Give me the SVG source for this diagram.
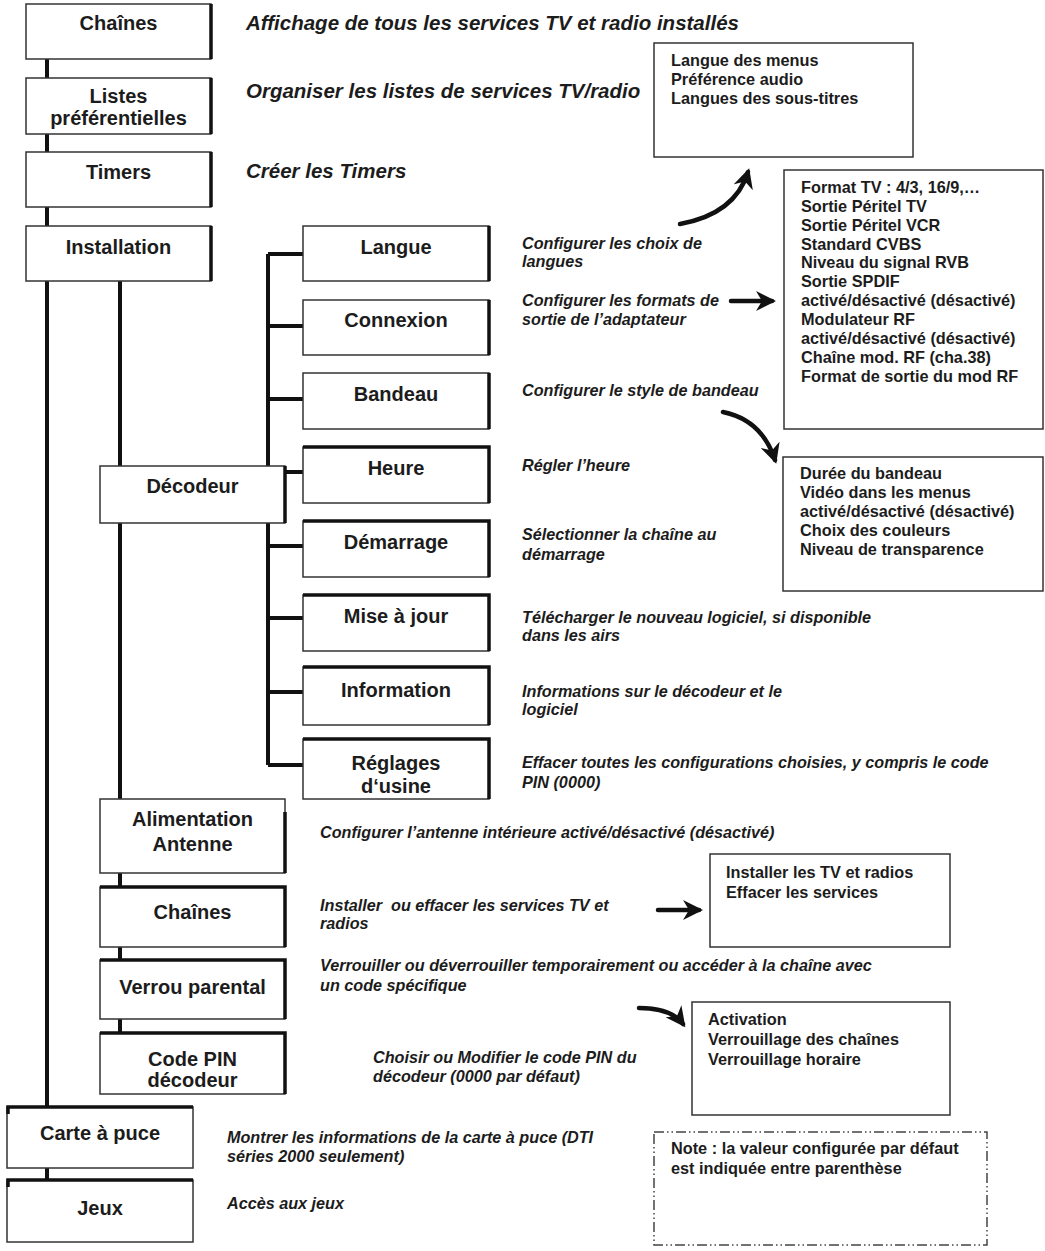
<svg xmlns="http://www.w3.org/2000/svg" width="1045" height="1251" viewBox="0 0 1045 1251">
<style>
text{font-family:"Liberation Sans",Arial,Helvetica,sans-serif;fill:#1c1c1c;font-weight:bold}
.n{font-size:20px;text-anchor:middle}
.d{font-style:italic;font-size:16.2px}
.dl{font-style:italic;font-size:20.5px}
.t{font-size:16.3px}
.box{fill:#fff;stroke:#333;stroke-width:1.5}
.sh{fill:none;stroke:#111;stroke-width:3.5}
.ln{fill:none;stroke:#111;stroke-width:4}
.ar{fill:none;stroke:#111;stroke-width:4.5;stroke-linecap:round}
.note{fill:#fff;stroke:#444;stroke-width:1.5;stroke-dasharray:10 3 1.5 3 1.5 3}
</style>
<defs>
<marker id="ah" viewBox="0 0 10 10" refX="8" refY="5" markerWidth="20" markerHeight="20" markerUnits="userSpaceOnUse" orient="auto"><path d="M0,0 L10,5 L0,10 L3,5 z" fill="#111"/></marker>
</defs>
<g id="connectors">
<path class="ln" d="M47,59 V1180"/>
<path class="ln" d="M120,281 V1033"/>
<path class="ln" d="M268,254 V765 M268,254 H303 M268,326 H303 M268,399 H303 M268,472 H303 M268,546 H303 M268,618 H303 M268,692 H303 M268,765 H303"/>
<path class="ar" d="M680,224 Q735,214 748,172" marker-end="url(#ah)"/>
<path class="ar" d="M731,301 H772" marker-end="url(#ah)"/>
<path class="ar" d="M723,412 Q762,420 775,460" marker-end="url(#ah)"/>
<path class="ar" d="M658,910 H699" marker-end="url(#ah)"/>
<path class="ar" d="M639,1008 Q671,1008 683,1024" marker-end="url(#ah)"/>
</g>
<g id="n-chaines"><rect class="box" x="26" y="4" width="185" height="55"/><path class="sh" d="M211,4 V59"/><text class="n" x="118.5" y="30">Chaînes</text></g>
<g id="n-listes"><rect class="box" x="26" y="78" width="185" height="56"/><path class="sh" d="M211,78 V134"/><text class="n" x="118.5" y="103">Listes</text><text class="n" x="118.5" y="125">préférentielles</text></g>
<g id="n-timers"><rect class="box" x="26" y="152" width="185" height="55"/><path class="sh" d="M211,152 V207"/><text class="n" x="118.5" y="179">Timers</text></g>
<g id="n-installation"><rect class="box" x="26" y="226" width="185" height="55"/><path class="sh" d="M211,226 V281"/><text class="n" x="118.5" y="254">Installation</text></g>
<g id="n-decodeur"><rect class="box" x="100" y="466" width="185" height="57"/><path class="sh" d="M285,466 V523"/><text class="n" x="192.5" y="493">Décodeur</text></g>
<g id="n-langue"><rect class="box" x="303" y="226" width="186" height="55"/><path class="sh" d="M489,226 V281"/><text class="n" x="396" y="254">Langue</text></g>
<g id="n-connexion"><rect class="box" x="303" y="300" width="186" height="55"/><path class="sh" d="M489,300 V355"/><text class="n" x="396" y="327">Connexion</text></g>
<g id="n-bandeau"><rect class="box" x="303" y="373" width="186" height="56"/><path class="sh" d="M489,373 V429"/><text class="n" x="396" y="401">Bandeau</text></g>
<g id="n-heure"><rect class="box" x="303" y="447" width="186" height="56"/><path class="sh" d="M303,447 H489 V503"/><text class="n" x="396" y="475">Heure</text></g>
<g id="n-demarrage"><rect class="box" x="303" y="521" width="186" height="56"/><path class="sh" d="M303,521 H489 V577"/><text class="n" x="396" y="549">Démarrage</text></g>
<g id="n-miseajour"><rect class="box" x="303" y="595" width="186" height="56"/><path class="sh" d="M303,595 H489 V651"/><text class="n" x="396" y="623">Mise à jour</text></g>
<g id="n-information"><rect class="box" x="303" y="667" width="186" height="58"/><path class="sh" d="M303,667 H489 V725"/><text class="n" x="396" y="697">Information</text></g>
<g id="n-reglages"><rect class="box" x="303" y="739" width="186" height="60"/><path class="sh" d="M303,739 H489 V799"/><text class="n" x="396" y="770">Réglages</text><text class="n" x="396" y="793">d‘usine</text></g>
<g id="n-alimentation"><rect class="box" x="100" y="799" width="185" height="74"/><path class="sh" d="M285,812 V873"/><text class="n" x="192.5" y="826">Alimentation</text><text class="n" x="192.5" y="851">Antenne</text></g>
<g id="n-chaines2"><rect class="box" x="100" y="887" width="185" height="60"/><path class="sh" d="M100,887 H285 V947"/><text class="n" x="192.5" y="919">Chaînes</text></g>
<g id="n-verrou"><rect class="box" x="100" y="960" width="185" height="59"/><path class="sh" d="M100,960 H285 V1019"/><text class="n" x="192.5" y="994">Verrou parental</text></g>
<g id="n-codepin"><rect class="box" x="100" y="1033" width="185" height="61"/><path class="sh" d="M100,1033 H285 V1094"/><text class="n" x="192.5" y="1066">Code PIN</text><text class="n" x="192.5" y="1087">décodeur</text></g>
<g id="n-carte"><rect class="box" x="7" y="1107" width="186" height="61"/><path class="sh" d="M8,1114 V1107 H193"/><text class="n" x="100" y="1140">Carte à puce</text></g>
<g id="n-jeux"><rect class="box" x="7" y="1180" width="186" height="62"/><path class="sh" d="M8,1187 V1180 H193"/><text class="n" x="100" y="1215">Jeux</text></g>
<g id="descriptions">
<text class="dl" x="246" y="30">Affichage de tous les services TV et radio installés</text>
<text class="dl" x="246" y="98">Organiser les listes de services TV/radio</text>
<text class="dl" x="246" y="178">Créer les Timers</text>
<text class="d" x="522" y="249">Configurer les choix de</text>
<text class="d" x="522" y="267">langues</text>
<text class="d" x="522" y="306">Configurer les formats de</text>
<text class="d" x="522" y="325">sortie de l’adaptateur</text>
<text class="d" x="522" y="396">Configurer le style de bandeau</text>
<text class="d" x="522" y="471">Régler l’heure</text>
<text class="d" x="522" y="540">Sélectionner la chaîne au</text>
<text class="d" x="522" y="560">démarrage</text>
<text class="d" x="522" y="623">Télécharger le nouveau logiciel, si disponible</text>
<text class="d" x="522" y="641">dans les airs</text>
<text class="d" x="522" y="697">Informations sur le décodeur et le</text>
<text class="d" x="522" y="715">logiciel</text>
<text class="d" x="522" y="768">Effacer toutes les configurations choisies, y compris le code</text>
<text class="d" x="522" y="788">PIN (0000)</text>
<text class="d" x="320" y="838">Configurer l’antenne intérieure activé/désactivé (désactivé)</text>
<text class="d" x="320" y="911" style="white-space:pre">Installer  ou effacer les services TV et</text>
<text class="d" x="320" y="929">radios</text>
<text class="d" x="320" y="971">Verrouiller ou déverrouiller temporairement ou accéder à la chaîne avec</text>
<text class="d" x="320" y="991">un code spécifique</text>
<text class="d" x="373" y="1063">Choisir ou Modifier le code PIN du</text>
<text class="d" x="373" y="1082">décodeur (0000 par défaut)</text>
<text class="d" x="227" y="1143">Montrer les informations de la carte à puce (DTI</text>
<text class="d" x="227" y="1162">séries 2000 seulement)</text>
<text class="d" x="227" y="1209">Accès aux jeux</text>
</g>
<g id="b-langues"><rect class="box" x="654" y="43" width="259" height="114"/>
<text class="t" x="671" y="66">Langue des menus</text><text class="t" x="671" y="85">Préférence audio</text><text class="t" x="671" y="104">Langues des sous-titres</text></g>
<g id="b-format"><rect class="box" x="784" y="170" width="259" height="259"/>
<text class="t" x="801" y="193">Format TV : 4/3, 16/9,…</text>
<text class="t" x="801" y="212">Sortie Péritel TV</text>
<text class="t" x="801" y="231">Sortie Péritel VCR</text>
<text class="t" x="801" y="250">Standard CVBS</text>
<text class="t" x="801" y="268">Niveau du signal RVB</text>
<text class="t" x="801" y="287">Sortie SPDIF</text>
<text class="t" x="801" y="306">activé/désactivé (désactivé)</text>
<text class="t" x="801" y="325">Modulateur RF</text>
<text class="t" x="801" y="344">activé/désactivé (désactivé)</text>
<text class="t" x="801" y="363">Chaîne mod. RF (cha.38)</text>
<text class="t" x="801" y="382">Format de sortie du mod RF</text></g>
<g id="b-bandeau"><rect class="box" x="783" y="457" width="260" height="134"/>
<text class="t" x="800" y="479">Durée du bandeau</text>
<text class="t" x="800" y="498">Vidéo dans les menus</text>
<text class="t" x="800" y="517">activé/désactivé (désactivé)</text>
<text class="t" x="800" y="536">Choix des couleurs</text>
<text class="t" x="800" y="555">Niveau de transparence</text></g>
<g id="b-install"><rect class="box" x="710" y="854" width="240" height="93"/>
<text class="t" x="726" y="878">Installer les TV et radios</text>
<text class="t" x="726" y="898">Effacer les services</text></g>
<g id="b-activation"><rect class="box" x="692" y="1002" width="258" height="113"/>
<text class="t" x="708" y="1025">Activation</text>
<text class="t" x="708" y="1045">Verrouillage des chaînes</text>
<text class="t" x="708" y="1065">Verrouillage horaire</text></g>
<g id="b-note"><rect class="note" x="654" y="1132" width="333" height="113"/>
<text class="t" x="671" y="1154">Note : la valeur configurée par défaut</text>
<text class="t" x="671" y="1174">est indiquée entre parenthèse</text></g>
</svg>
